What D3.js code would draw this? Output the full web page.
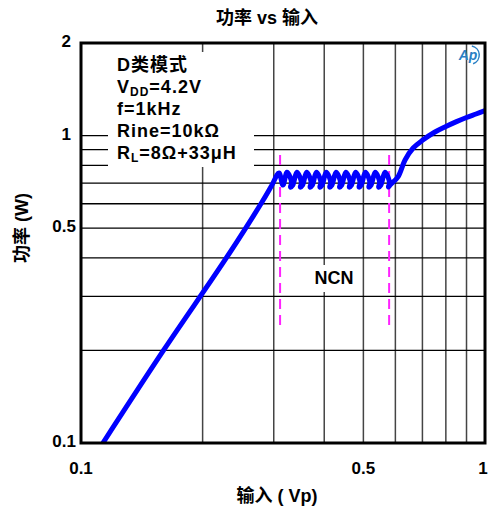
<!DOCTYPE html>
<html>
<head>
<meta charset="utf-8">
<script src="https://cdn.jsdelivr.net/npm/d3@7"></script>
<style>
  body { margin: 0; background: #fff; }
  text { font-family: "Liberation Sans", Arial, "Noto Sans CJK SC", sans-serif; font-weight: bold; }
</style>
</head>
<body>
<div id="chart"></div>
<script>
// 刻度與網格
const xTicks = [0.1, 0.5, 1];
const yTicks = [0.1, 0.5, 1, 2];
const xGrid = [0.2, 0.3, 0.4, 0.5, 0.6, 0.7, 0.8, 0.9];
const yGrid = [0.2, 0.3, 0.4, 0.5, 0.6, 0.7, 0.8, 0.9, 1];

// 曲線數據 (Vp, W)
const curveVp = [
  0.1133, 0.16, 0.2298, 0.2806, 0.297, 0.309,
  0.3162, 0.3235, 0.3291, 0.3319, 0.3300,
  0.3344, 0.3421, 0.3480, 0.3510, 0.3490,
  0.3535, 0.3617, 0.3679, 0.3711, 0.3689,
  0.3738, 0.3824, 0.3890, 0.3924, 0.3901,
  0.3953, 0.4044, 0.4114, 0.4150, 0.4126,
  0.4180, 0.4277, 0.4350, 0.4388, 0.4363,
  0.4420, 0.4522, 0.4600, 0.4640, 0.4613,
  0.4673, 0.4781, 0.4863, 0.4905, 0.4877,
  0.4941, 0.5055, 0.5142, 0.5187, 0.5157,
  0.5225, 0.5346, 0.5438, 0.5485, 0.5453,
  0.5525, 0.5653, 0.5750, 0.5800, 0.5766,
  0.582, 0.609, 0.634, 0.664, 0.7, 0.75, 0.8, 0.85, 0.9, 0.95, 1.0
];
const curveW = [
  0.1, 0.2, 0.4027, 0.608, 0.691, 0.755,
  0.69, 0.76, 0.735, 0.70, 0.68,
  0.69, 0.76, 0.735, 0.70, 0.68,
  0.69, 0.76, 0.735, 0.70, 0.68,
  0.69, 0.76, 0.735, 0.70, 0.68,
  0.69, 0.76, 0.735, 0.70, 0.68,
  0.69, 0.76, 0.735, 0.70, 0.68,
  0.69, 0.76, 0.735, 0.70, 0.68,
  0.69, 0.76, 0.735, 0.70, 0.68,
  0.69, 0.76, 0.735, 0.70, 0.68,
  0.69, 0.76, 0.735, 0.70, 0.68,
  0.69, 0.76, 0.735, 0.70, 0.68,
  0.69, 0.734, 0.833, 0.911, 0.965, 1.025, 1.07, 1.11, 1.145, 1.175, 1.205
];

// NCN 區間的虛線
const ncnVp = [0.311, 0.579];
const ncnW = [0.242, 0.865];

const legendLines = [
  [["D类模式", false]],
  [["V", false], ["DD", true], ["=4.2V", false]],
  [["f=1kHz", false]],
  [["Rine=10kΩ", false]],
  [["R", false], ["L", true], ["=8Ω+33μH", false]]
];

const width = 490, height = 508;
const plotL = 81, plotR = 485, plotT = 43, plotB = 443;

const svg = d3.select("#chart").append("svg")
  .attr("width", width)
  .attr("height", height);

const x = d3.scaleLog().domain([0.1, 1]).range([plotL, plotR]);
const y = d3.scaleLog().domain([0.1, 2]).range([plotB, plotT]);

svg.append("defs").append("clipPath").attr("id", "clip")
  .append("rect")
  .attr("x", plotL).attr("y", plotT)
  .attr("width", plotR - plotL).attr("height", plotB - plotT);

// 網格
svg.selectAll(".vgrid").data(xGrid).enter().append("line")
  .attr("x1", d => x(d)).attr("x2", d => x(d))
  .attr("y1", plotT).attr("y2", plotB)
  .attr("stroke", "#444").attr("stroke-width", 1.5);

svg.selectAll(".hgrid").data(yGrid).enter().append("line")
  .attr("x1", plotL).attr("x2", plotR)
  .attr("y1", d => y(d)).attr("y2", d => y(d))
  .attr("stroke", "#000").attr("stroke-width", 1.3);

// 說明框 (白底蓋住網格)
svg.append("rect")
  .attr("x", 108).attr("y", 52).attr("width", 146).attr("height", 115)
  .attr("fill", "#fff");

svg.append("rect")
  .attr("x", 305).attr("y", 265).attr("width", 57).attr("height", 27)
  .attr("fill", "#fff");

// 虛線
svg.selectAll(".ncn").data(ncnVp).enter().append("line")
  .attr("x1", d => x(d)).attr("x2", d => x(d))
  .attr("y1", y(ncnW[1])).attr("y2", y(ncnW[0]))
  .attr("stroke", "#ff22ff").attr("stroke-width", 2)
  .attr("stroke-dasharray", "10,6");

// 曲線
const pts = curveVp.map((v, i) => [v, curveW[i]]);
const line = d3.line()
  .x(d => x(d[0]))
  .y(d => y(d[1]))
  .curve(d3.curveCatmullRom.alpha(0.5));

svg.append("path")
  .datum(pts)
  .attr("clip-path", "url(#clip)")
  .attr("d", line)
  .attr("fill", "none")
  .attr("stroke", "#0000ff")
  .attr("stroke-width", 5)
  .attr("stroke-linejoin", "round");

// 外框
svg.append("rect")
  .attr("x", plotL).attr("y", plotT)
  .attr("width", plotR - plotL).attr("height", plotB - plotT)
  .attr("fill", "none").attr("stroke", "#000").attr("stroke-width", 3);

// 刻度文字
svg.selectAll(".xt").data(xTicks).enter().append("text")
  .attr("x", d => x(d) + (d === 1 ? -2 : 0))
  .attr("y", 474)
  .attr("text-anchor", "middle")
  .attr("font-size", 17)
  .text(d => d);

svg.selectAll(".yt").data(yTicks).enter().append("text")
  .attr("x", d => d === 2 || d === 1 ? 71 : 76)
  .attr("y", d => y(d) - 2)
  .attr("dy", "0.35em")
  .attr("text-anchor", "end")
  .attr("font-size", 17)
  .text(d => d);

// 標題與軸標籤
svg.append("text")
  .attr("x", 267).attr("y", 24)
  .attr("text-anchor", "middle")
  .attr("font-size", 18)
  .text("功率 vs 输入");

svg.append("text")
  .attr("x", 277).attr("y", 502)
  .attr("text-anchor", "middle")
  .attr("font-size", 18)
  .text("输入 ( Vp)");

svg.append("text")
  .attr("transform", "translate(28,228) rotate(-90)")
  .attr("text-anchor", "middle")
  .attr("font-size", 18)
  .text("功率 (W)");

// 說明文字
legendLines.forEach((parts, i) => {
  const t = svg.append("text")
    .attr("x", 117).attr("y", 71 + i * 22)
    .attr("font-size", 18)
    .attr("letter-spacing", 1);
  parts.forEach(([s, sub], j) => {
    const ts = t.append("tspan").text(s);
    if (sub) ts.attr("font-size", 12).attr("dy", 3);
    else if (j > 0) ts.attr("dy", -3);
  });
});

svg.append("text")
  .attr("x", 334).attr("y", 284)
  .attr("text-anchor", "middle")
  .attr("font-size", 18)
  .text("NCN");

// Ap 標誌
svg.append("text")
  .attr("x", 468).attr("y", 60)
  .attr("text-anchor", "middle")
  .attr("font-size", 14)
  .attr("font-style", "italic")
  .attr("fill", "#2a7fc4")
  .text("Ap");
svg.append("path")
  .attr("d", d3.arc()({innerRadius: 8.5, outerRadius: 10, startAngle: 0.2, endAngle: 2.8}))
  .attr("transform", "translate(470,55)")
  .attr("fill", "#2a7fc4");
</script>
</body>
</html>
